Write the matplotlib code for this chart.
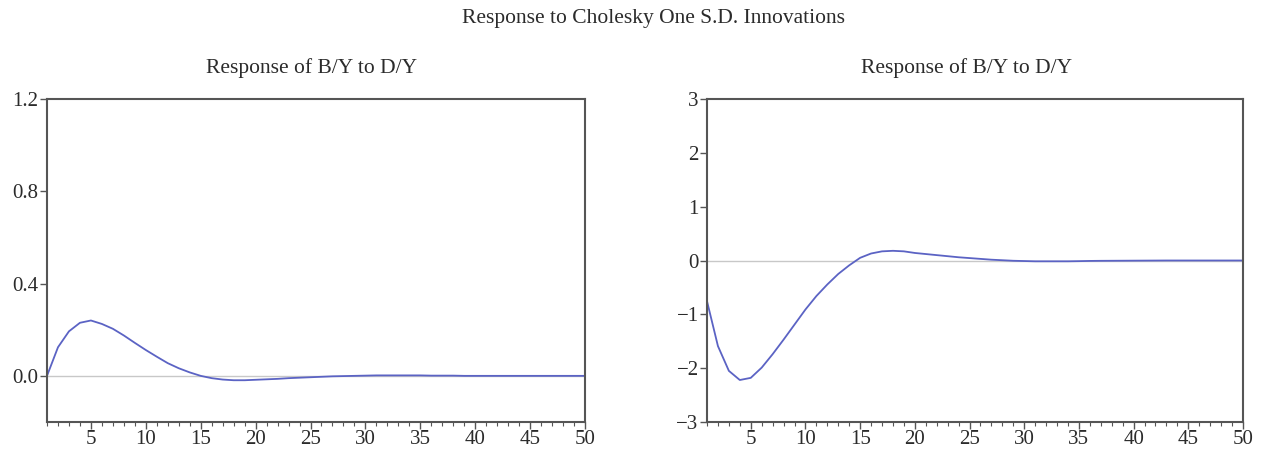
import numpy as np
import matplotlib.pyplot as plt
from matplotlib.ticker import MultipleLocator, FormatStrFormatter

# 脉冲响应数据（从图中读取，期数 1..50）
periods = np.arange(1, 51)

resp_left = [0.000, 0.124, 0.193, 0.230, 0.240, 0.225, 0.204, 0.175, 0.143, 0.112,
             0.083, 0.055, 0.033, 0.015, 0.000, -0.010, -0.016, -0.019, -0.019, -0.017,
             -0.015, -0.013, -0.010, -0.008, -0.006, -0.004, -0.002, -0.001, 0.000, 0.001,
             0.002, 0.002, 0.002, 0.002, 0.002, 0.001, 0.001, 0.001, 0.000, 0.000,
             0.000, 0.000, 0.000, 0.000, 0.000, 0.000, 0.000, 0.000, 0.000, 0.000]

resp_right = [-0.755, -1.59, -2.05, -2.22, -2.18, -1.99, -1.74, -1.47, -1.19, -0.91,
              -0.66, -0.445, -0.25, -0.09, 0.05, 0.13, 0.17, 0.18, 0.17, 0.14,
              0.12, 0.10, 0.08, 0.06, 0.045, 0.03, 0.015, 0.005, -0.005, -0.010,
              -0.015, -0.015, -0.015, -0.015, -0.012, -0.008, -0.006, -0.005, -0.004, -0.003,
              -0.002, -0.001, 0.000, 0.000, 0.000, 0.000, 0.000, 0.000, 0.000, 0.000]

suptitle = 'Response to Cholesky One S.D. Innovations'
subtitles = ['Response of B/Y to D/Y', 'Response of B/Y to D/Y']

plt.rcParams['font.family'] = ['Liberation Serif', 'DejaVu Serif']
plt.rcParams['axes.unicode_minus'] = True

LINE_COLOR = '#5b63c4'
SPINE_COLOR = '#555555'
TEXT_COLOR = '#2b2b2b'

fig = plt.figure(figsize=(12.63, 4.55), dpi=100)
W, H = 1263, 455
ax1 = fig.add_axes([47 / W, 1 - 422 / H, (585 - 47) / W, (422 - 99) / H])
ax2 = fig.add_axes([707 / W, 1 - 422 / H, (1243 - 707) / W, (422 - 99) / H])

fig.text(654 / W, 1 - 18 / H, suptitle, ha='center', va='center',
         fontsize=15.5, color=TEXT_COLOR)

for ax, y, sub, cx in [(ax1, resp_left, subtitles[0], 312),
                       (ax2, resp_right, subtitles[1], 967)]:
    ax.axhline(0, color='#c8c8c8', linewidth=1.0, zorder=1)
    ax.plot(periods, y, color=LINE_COLOR, linewidth=1.3, zorder=2)
    ax.set_xlim(1, 50)
    ax.xaxis.set_major_locator(MultipleLocator(5))
    ax.xaxis.set_minor_locator(MultipleLocator(1))
    ax.tick_params(axis='both', which='major', direction='out', length=5, width=1,
                   color=SPINE_COLOR, labelsize=15, labelcolor=TEXT_COLOR, pad=1)
    ax.tick_params(axis='x', which='minor', direction='out', length=3, width=0.8,
                   color=SPINE_COLOR)
    for s in ax.spines.values():
        s.set_color(SPINE_COLOR)
        s.set_linewidth(1.5)
    fig.text(cx / W, 1 - 68 / H, sub, ha='center', va='center',
             fontsize=15.5, color=TEXT_COLOR)

ax1.set_ylim(-0.2, 1.2)
ax1.set_yticks([0.0, 0.4, 0.8, 1.2])
ax1.yaxis.set_major_formatter(FormatStrFormatter('%.1f'))

ax2.set_ylim(-3, 3)
ax2.set_yticks([-3, -2, -1, 0, 1, 2, 3])

plt.savefig('out.png', dpi=100)
